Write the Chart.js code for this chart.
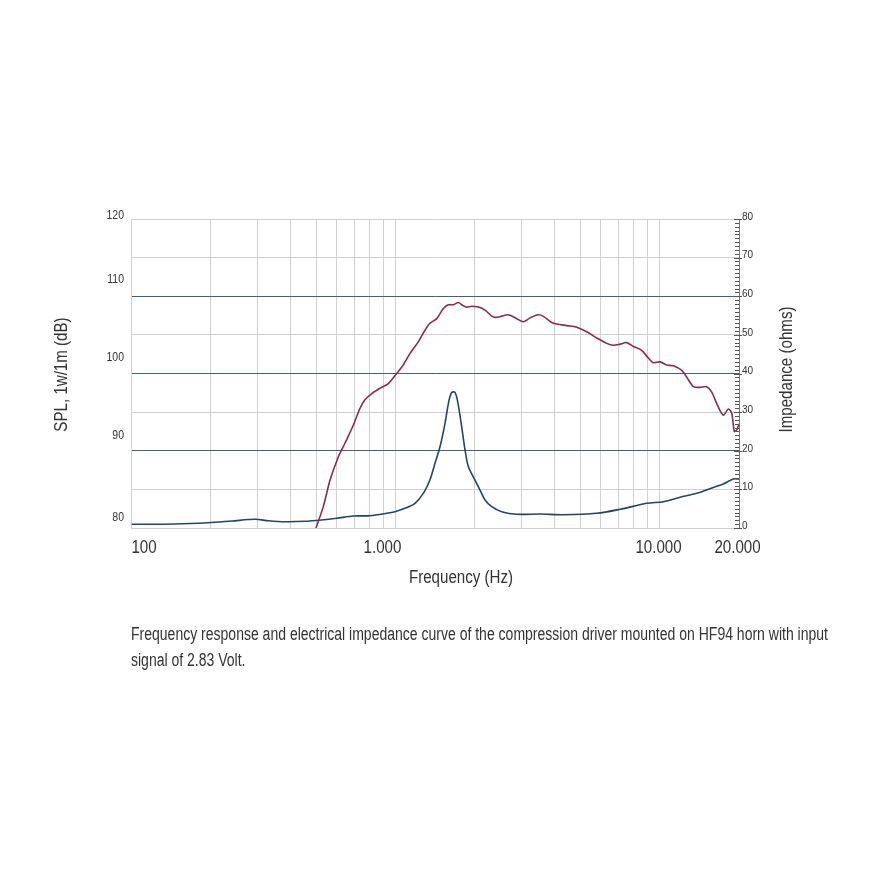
<!DOCTYPE html>
<html>
<head>
<meta charset="utf-8">
<title>HF94 - resposta em frequência e impedância</title>
<script src="https://cdn.jsdelivr.net/npm/chart.js"></script>
<style>
  html, body { margin: 0; padding: 0; background: #fff; }
  #wrap { position: relative; width: 881px; height: 881px; }
  #caption {
    position: absolute; left: 131px; top: 621px; width: 750px;
    font-family: "Liberation Sans", Arial, sans-serif;
    font-size: 18px; line-height: 26px; color: #333;
  }
  #caption span { display: inline-block; white-space: nowrap; transform-origin: 0 0; }
</style>
</head>
<body>
<div id="wrap">
  <canvas id="chart" width="881" height="881"></canvas>
  <div id="caption"><span id="cap1">Frequency response and electrical impedance curve of the compression driver mounted on HF94 horn with input</span><br><span id="cap2">signal of 2.83 Volt.</span></div>
</div>
<script>
// --- dados ---
const splFreq = [500, 533, 565, 607, 644, 692, 734, 766, 813, 874, 939, 1010, 1070, 1135, 1220, 1293, 1350, 1432, 1517, 1585,
  1656, 1730, 1781, 1850, 1944, 2060, 2183, 2347, 2488, 2675, 2878, 3050, 3233, 3475, 3629, 3906, 4080, 4450, 4860, 5300,
  5780, 6310, 6680, 7090, 7510, 7960, 8560, 9070, 9470, 10040, 10650, 11280, 12140, 12860, 13430, 14240, 15090, 15770,
  16470, 17450, 18220, 18770, 19200, 19610, 20000];
const splDb = [80.0, 82.8, 86.2, 89.2, 91.0, 93.3, 95.5, 96.6, 97.4, 98.1, 98.7, 100.0, 101.1, 102.6, 104.1, 105.6, 106.5, 107.1, 108.4, 108.9,
  108.9, 109.2, 108.9, 108.6, 108.7, 108.6, 108.2, 107.3, 107.35, 107.6, 107.1, 106.7, 107.2, 107.6, 107.4, 106.6, 106.4, 106.2, 106.0, 105.4,
  104.6, 103.9, 103.65, 103.8, 104.0, 103.5, 103.0, 102.0, 101.4, 101.5, 101.1, 101.0, 100.4, 99.2, 98.3, 98.2, 98.3, 97.6,
  96.1, 94.6, 95.4, 94.85, 92.5, 92.7, 93.5];

const impFreq = [100, 146, 195, 240, 294, 330, 381, 454, 525, 599, 692, 800, 926, 995, 1086, 1185, 1274, 1350, 1411, 1474,
  1540, 1595, 1633, 1680, 1720, 1781, 1834, 1887, 2000, 2089, 2183, 2314, 2525, 2878, 3530, 4320, 5780, 7090, 8940, 10340,
  11960, 13830, 15990, 17450, 19030, 20000];
const impOhm = [0.96, 1.04, 1.37, 1.81, 2.25, 1.89, 1.63, 1.73, 2.07, 2.51, 3.1, 3.18, 3.8, 4.22, 5.1, 6.39, 8.98, 12.43, 16.75, 21.05,
  27.1, 33.1, 35.1, 35.1, 32.7, 26.2, 20.2, 15.9, 12.4, 9.84, 7.25, 5.52, 4.22, 3.55, 3.62, 3.44, 3.8, 4.84, 6.39, 6.81,
  7.95, 8.98, 10.5, 11.4, 12.7, 12.7];

// eixos
const xGridValues = [100, 200, 300, 400, 500, 600, 700, 800, 900, 1000, 2000, 3000, 4000, 5000, 6000, 7000, 8000, 9000, 10000, 20000];
const xTickValues = [100, 1000, 10000, 20000];
const xTickLabels = ['100', '1.000', '10.000', '20.000'];
const splTickValues = [80, 90, 100, 110, 120];
const darkLines = [20, 40, 60]; // linhas escuras (ohms)

// deslocamentos dos rótulos, como no original (px)
const xLabelShift = [12.5, -13, -1, -1.5];
const splLabelShift = [-10, -15, -16, -17, -3];

const SANS = '"Liberation Sans", Arial, sans-serif';
const SQUEEZE = 0.84; // fonte condensada do original
const LIGHT = '#d0d0d0';
const DARK = '#46616f';

// Texto "estreito": fonte normal comprimida na horizontal
function narrowText(ctx, text, x, y, size, align, angle) {
  ctx.save();
  ctx.translate(x, y);
  if (angle) ctx.rotate(angle);
  ctx.scale(SQUEEZE, 1);
  ctx.font = size + 'px ' + SANS;
  ctx.textAlign = align;
  ctx.textBaseline = 'middle';
  ctx.fillStyle = '#333';
  ctx.fillText(text, 0, 0);
  ctx.restore();
}

// Desenha rótulos, títulos e marcas menores
const axisExtras = {
  id: 'axisExtras',
  afterDraw(chart) {
    const ctx = chart.ctx;
    const area = chart.chartArea;
    const { x, y, y1 } = chart.scales;

    // marcas do eixo de impedância
    ctx.save();
    ctx.strokeStyle = '#555';
    ctx.lineWidth = 1;
    ctx.beginPath();
    for (let v = 0; v <= 80; v++) {
      const py = Math.round(y1.getPixelForValue(v)) + 0.5;
      const major = v % 10 === 0;
      ctx.moveTo(area.right - (major ? 5 : 4), py);
      ctx.lineTo(area.right + (major ? 3 : 0), py);
    }
    ctx.stroke();
    ctx.restore();

    // rótulos SPL
    splTickValues.forEach((v, i) => {
      narrowText(ctx, String(v), 124, y.getPixelForValue(v) + splLabelShift[i], 12.5, 'right');
    });

    // rótulos de frequência
    xTickValues.forEach((v, i) => {
      narrowText(ctx, xTickLabels[i], x.getPixelForValue(v) + xLabelShift[i], area.bottom + 20, 18, 'center');
    });

    // títulos
    const midY = (area.top + area.bottom) / 2;
    narrowText(ctx, 'Frequency (Hz)', 461, area.bottom + 50, 18, 'center');
    narrowText(ctx, 'SPL, 1w/1m (dB)', 62, midY + 1, 18, 'center', -Math.PI / 2);
    narrowText(ctx, 'Impedance (ohms)', 787, midY - 4, 18, 'center', -Math.PI / 2);
  }
};

const ctx = document.getElementById('chart').getContext('2d');
new Chart(ctx, {
  type: 'line',
  data: {
    datasets: [
      {
        label: 'SPL',
        data: splFreq.map((f, i) => ({ x: f, y: splDb[i] })),
        yAxisID: 'y',
        borderColor: '#8b2c4a',
        borderWidth: 1.6,
        pointRadius: 0,
        tension: 0.3
      },
      {
        label: 'Impedance',
        data: impFreq.map((f, i) => ({ x: f, y: impOhm[i] })),
        yAxisID: 'y1',
        borderColor: '#24475f',
        borderWidth: 1.6,
        pointRadius: 0,
        tension: 0.3
      }
    ]
  },
  options: {
    responsive: false,
    devicePixelRatio: 1,
    animation: false,
    layout: { padding: { top: 219, bottom: 281, left: 0, right: 0 } },
    plugins: { legend: { display: false }, tooltip: { enabled: false } },
    scales: {
      x: {
        type: 'logarithmic',
        min: 100,
        max: 20000,
        afterBuildTicks: (s) => { s.ticks = xGridValues.map(v => ({ value: v })); },
        afterFit: (s) => { s.height = 72; },
        ticks: { display: false },
        grid: { color: LIGHT, drawTicks: false },
        border: { color: LIGHT }
      },
      y: {
        position: 'left',
        min: 80,
        max: 120,
        afterFit: (s) => { s.width = 131.5; },
        ticks: { display: false },
        grid: { drawOnChartArea: false, drawTicks: false },
        border: { color: LIGHT }
      },
      y1: {
        position: 'right',
        min: 0,
        max: 80,
        afterFit: (s) => { s.width = 142; },
        ticks: {
          stepSize: 10,
          color: '#333',
          padding: 3,
          labelOffset: -2,
          font: { family: SANS, size: 10 }
        },
        grid: {
          drawTicks: false,
          color: (c) => (c.tick && darkLines.includes(c.tick.value) ? DARK : LIGHT)
        },
        border: { color: '#777' }
      }
    }
  },
  plugins: [axisExtras]
});

// legenda: comprime a linha para a largura do original
const cap1 = document.getElementById('cap1');
const cap2 = document.getElementById('cap2');
const capScale = 697 / cap1.getBoundingClientRect().width;
cap1.style.transform = 'scaleX(' + capScale + ')';
cap2.style.transform = 'scaleX(' + capScale + ')';
</script>
</body>
</html>
